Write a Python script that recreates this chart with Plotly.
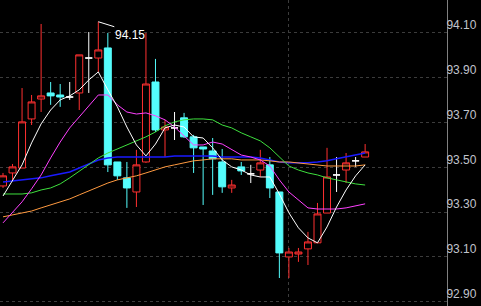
import plotly.graph_objects as go

# ---- data ----
idx = list(range(39))
opens = [93.417, 93.475, 93.497, 93.716, 93.805, 93.832, 93.823, 93.814, 93.832, 93.988,
         93.988, 94.033, 93.524, 93.453, 93.390, 93.524, 93.881, 93.667, 93.676, 93.721,
         93.636, 93.591, 93.573, 93.524, 93.408, 93.502, 93.471, 93.488, 93.511, 93.390,
         93.100, 93.113, 93.136, 93.163, 93.296, 93.466, 93.488, 93.529, 93.546]
highs = [93.475, 93.515, 93.854, 93.823, 94.140, 93.881, 93.872, 93.881, 94.002, 94.104,
         94.150, 94.100, 93.524, 93.524, 93.578, 94.100, 93.984, 93.712, 93.747, 93.743,
         93.645, 93.591, 93.631, 93.582, 93.444, 93.524, 93.511, 93.578, 93.546, 93.390,
         93.140, 93.140, 93.212, 93.341, 93.587, 93.546, 93.564, 93.546, 93.604]
lows = [93.408, 93.444, 93.497, 93.689, 93.747, 93.779, 93.770, 93.801, 93.756, 93.832,
        93.926, 93.479, 93.444, 93.319, 93.323, 93.520, 93.658, 93.546, 93.622, 93.631,
        93.475, 93.332, 93.377, 93.386, 93.386, 93.466, 93.430, 93.457, 93.363, 93.006,
        93.006, 93.078, 93.064, 93.163, 93.296, 93.390, 93.430, 93.502, 93.546]
closes = [93.462, 93.502, 93.703, 93.792, 93.819, 93.819, 93.814, 93.814, 94.002, 93.988,
          94.024, 93.511, 93.462, 93.408, 93.511, 93.872, 93.667, 93.680, 93.676, 93.636,
          93.587, 93.582, 93.538, 93.413, 93.421, 93.484, 93.471, 93.520, 93.408, 93.118,
          93.122, 93.122, 93.167, 93.292, 93.457, 93.466, 93.520, 93.529, 93.569]

ma_white = [93.372, 93.439, 93.511, 93.609, 93.694, 93.756, 93.801, 93.819, 93.846, 93.890,
            93.926, 93.846, 93.770, 93.680, 93.600, 93.551, 93.604, 93.676, 93.689, 93.680,
            93.636, 93.631, 93.587, 93.533, 93.502, 93.488, 93.466, 93.457, 93.457, 93.381,
            93.297, 93.230, 93.185, 93.163, 93.234, 93.323, 93.399, 93.462, 93.511]
ma_magenta = [93.252, 93.297, 93.346, 93.404, 93.466, 93.542, 93.613, 93.676, 93.725, 93.779,
              93.823, 93.823, 93.779, 93.747, 93.738, 93.743, 93.730, 93.712, 93.680, 93.640,
              93.600, 93.600, 93.613, 93.604, 93.578, 93.555, 93.546, 93.533, 93.506, 93.444,
              93.390, 93.355, 93.319, 93.314, 93.314, 93.314, 93.319, 93.328, 93.337]
ma_green = [93.381, 93.381, 93.381, 93.386, 93.399, 93.408, 93.426, 93.453, 93.484, 93.515,
            93.542, 93.564, 93.582, 93.600, 93.618, 93.636, 93.658, 93.685, 93.703, 93.712,
            93.716, 93.716, 93.712, 93.689, 93.676, 93.654, 93.636, 93.618, 93.587, 93.546,
            93.506, 93.488, 93.475, 93.466, 93.453, 93.444, 93.435, 93.426, 93.421]
ma_orange = [93.279, 93.288, 93.297, 93.305, 93.319, 93.332, 93.346, 93.359, 93.377, 93.395,
             93.413, 93.430, 93.444, 93.453, 93.462, 93.475, 93.488, 93.502, 93.511, 93.520,
             93.529, 93.533, 93.538, 93.538, 93.538, 93.533, 93.533, 93.533, 93.529, 93.524,
             93.524, 93.520, 93.515, 93.511, 93.506, 93.506, 93.506, 93.506, 93.511]
ma_blue = [93.435, 93.439, 93.444, 93.448, 93.453, 93.462, 93.471, 93.479, 93.497, 93.515,
           93.533, 93.542, 93.546, 93.546, 93.546, 93.546, 93.546, 93.546, 93.551, 93.551,
           93.551, 93.551, 93.551, 93.546, 93.546, 93.546, 93.546, 93.542, 93.533, 93.524,
           93.520, 93.520, 93.520, 93.524, 93.529, 93.538, 93.546, 93.555, 93.564]

tick_vals = [92.90, 93.10, 93.30, 93.50, 93.70, 93.90, 94.10]
tick_text = ["92.90", "93.10", "93.30", "93.50", "93.70", "93.90", "94.10"]
peak_label = "94.15"
peak_index = 10
peak_value = 94.15
separator_index = 30

RED = "#ff3030"
CYAN = "#54fcfc"

up = [i for i in idx if closes[i] > opens[i]]
down = [i for i in idx if closes[i] < opens[i]]
doji = [i for i in idx if closes[i] == opens[i]]


def sub(arr, sel):
    return [arr[i] for i in sel]


fig = go.Figure()

# moving averages (drawn beneath candles)
for vals, col, w in [(ma_blue, "#1a1aff", 1.5), (ma_orange, "#ff9a40", 1),
                     (ma_green, "#3ee03e", 1), (ma_magenta, "#ff40ff", 1),
                     (ma_white, "#ffffff", 1)]:
    fig.add_trace(go.Scatter(x=idx, y=vals, mode="lines",
                             line=dict(color=col, width=w), hoverinfo="skip"))

for sel, lc, fc in [(up, RED, "#000000"), (down, CYAN, CYAN), (doji, "#ffffff", "#ffffff")]:
    fig.add_trace(go.Candlestick(
        x=sel, open=sub(opens, sel), high=sub(highs, sel),
        low=sub(lows, sel), close=sub(closes, sel),
        increasing=dict(line=dict(color=lc, width=1), fillcolor=fc),
        decreasing=dict(line=dict(color=lc, width=1), fillcolor=fc),
        whiskerwidth=0, hoverinfo="skip"))

fig.add_annotation(x=peak_index, y=peak_value, text=peak_label,
                   showarrow=True, arrowhead=0, arrowwidth=1, arrowcolor="#ffffff",
                   ax=16, ay=5, xanchor="left", yanchor="top", standoff=0,
                   font=dict(family="Liberation Sans, Arial", size=12, color="#ffffff"),
                   borderpad=0)

fig.update_layout(
    width=481, height=306,
    margin=dict(l=0, r=34, t=0, b=0),
    paper_bgcolor="#000000", plot_bgcolor="#000000",
    showlegend=False,
    boxgap=0.27, boxgroupgap=0,
    font=dict(family="Liberation Sans, Arial", size=12, color="#c0c4cc"),
)
fig.update_xaxes(range=[-0.315, 46.59], rangeslider_visible=False,
                 tickvals=[separator_index], showticklabels=False, ticks="",
                 showgrid=True, gridcolor="#3c3c3c", griddash="dot", gridwidth=1,
                 zeroline=False, showline=False)
fig.update_yaxes(range=[92.881, 94.247], side="right",
                 tickvals=tick_vals, ticktext=tick_text, ticks="",
                 ticklabelshift=-8, ticklabelstandoff=-4,
                 tickfont=dict(family="Liberation Sans, Arial", size=12, color="#c0c4cc"),
                 showgrid=True, gridcolor="#3c3c3c", griddash="dot", gridwidth=1,
                 zeroline=False, showline=True, linecolor="#808080", linewidth=1)

fig.write_html("out.html")
